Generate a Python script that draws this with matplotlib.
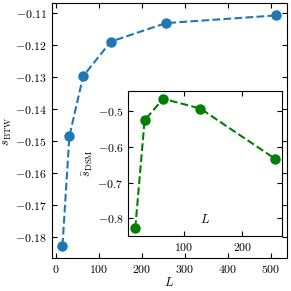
import numpy as np
import matplotlib
matplotlib.use('Agg')
import matplotlib.pyplot as plt

plt.rcParams['font.family'] = 'serif'
plt.rcParams['font.serif'] = ['cmr10']
plt.rcParams['mathtext.fontset'] = 'cm'
plt.rcParams['axes.formatter.use_mathtext'] = True
plt.rcParams['font.size'] = 8.5

L_btw = np.array([16, 32, 64, 128, 256, 512])
s_btw = np.array([-0.1827, -0.1485, -0.1297, -0.1189, -0.1131, -0.1107])
err_btw = np.array([0.0003, 0.0004, 0.0003, 0.0002, 0.0002, 0.0002])

L_dsm = np.array([16, 32, 64, 128, 256])
s_dsm = np.array([-0.8275, -0.5256, -0.465, -0.4926, -0.6327])
err_dsm = np.array([0.004, 0.006, 0.003, 0.003, 0.003])

fig = plt.figure(figsize=(2.91, 2.91), dpi=100)
ax = fig.add_axes([0.178, 0.113, 0.808, 0.876])
ax.errorbar(L_btw, s_btw, yerr=err_btw, fmt='o--', color='tab:blue', ms=6.5, lw=1.5,
            ecolor='k', elinewidth=1, capsize=3)
ax.set_xlabel(r'$L$', fontsize=9, labelpad=1)
ax.set_ylabel(r'$\bar{s}_{\rm BTW}$', fontsize=9, labelpad=1)
ax.set_xticks([0, 100, 200, 300, 400, 500])
ax.tick_params(direction='in', top=True, right=True)

ins = fig.add_axes([0.441, 0.189, 0.527, 0.498])
ins.errorbar(L_dsm, s_dsm, yerr=err_dsm, fmt='o--', color='green', ms=6.5, lw=1.5,
             ecolor='k', elinewidth=1, capsize=3)
ins.set_xlabel(r'$L$', fontsize=9, labelpad=-29)
ins.set_ylabel(r'$\bar{s}_{\rm DSM}$', fontsize=9, labelpad=2)
ins.set_xticks([100, 200])
ins.set_yticks([-0.5, -0.6, -0.7, -0.8])
ins.tick_params(direction='in', top=True, right=True)

fig.savefig('out.png', dpi=100)
